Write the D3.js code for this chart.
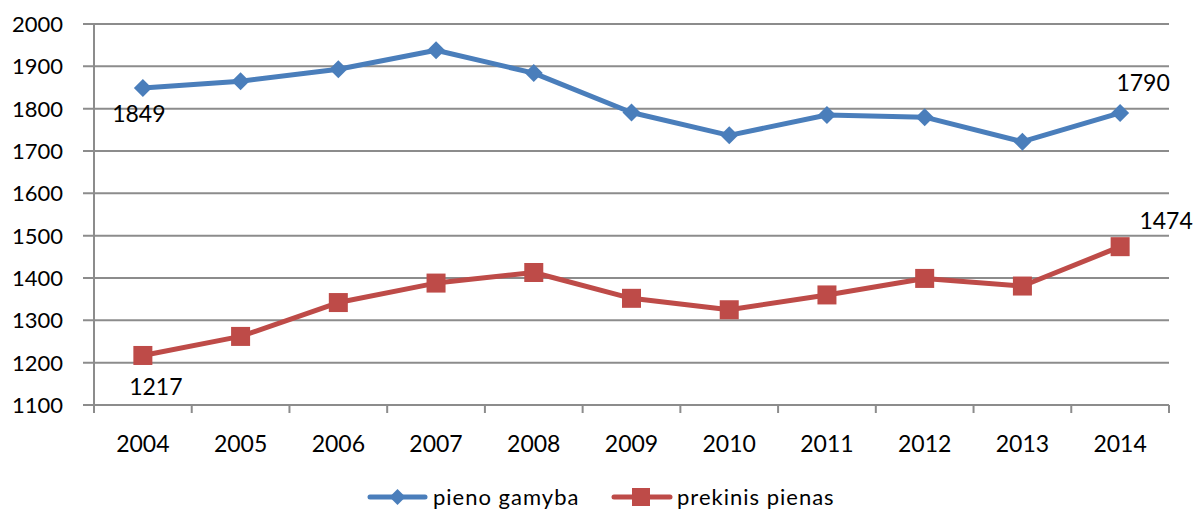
<!DOCTYPE html>
<html><head><meta charset="utf-8">
<script src="https://cdn.jsdelivr.net/npm/d3@7"></script>
<style>body{margin:0;background:#fff;}svg{display:block;font-family:Lato,"Open Sans",sans-serif;}</style>
</head><body><svg id="c" width="1196" height="511"></svg>
<script>
const years = ["2004","2005","2006","2007","2008","2009","2010","2011","2012","2013","2014"];
const pienoGamyba = [1849,1865,1893,1938,1884,1791,1737,1785,1780,1722,1790];
const prekinisPienas = [1217,1262,1342,1388,1413,1352,1325,1360,1399,1381,1474];
const yTicks = [1100,1200,1300,1400,1500,1600,1700,1800,1900,2000];
const seriesNames = ["pieno gamyba","prekinis pienas"];

const svg = d3.select("#c");
const L = 94, R = 1169, T = 24, B = 405;
const x = d3.scaleBand().domain(years).range([L, R]);
const y = d3.scaleLinear().domain([1100, 2000]).range([B, T]);
const grey = "#8c8c8c";

svg.append("g").selectAll("line").data(yTicks).join("line")
  .attr("x1", L - 11).attr("x2", R).attr("y1", d => y(d)).attr("y2", d => y(d))
  .attr("stroke", grey).attr("stroke-width", 2);
svg.append("line").attr("x1", L).attr("x2", L).attr("y1", T).attr("y2", B + 8)
  .attr("stroke", grey).attr("stroke-width", 2);
const bounds = years.map(d => x(d)).concat([R]);
svg.append("g").selectAll("line").data(bounds.slice(1)).join("line")
  .attr("x1", d => d).attr("x2", d => d).attr("y1", B).attr("y2", B + 8)
  .attr("stroke", grey).attr("stroke-width", 2);
svg.append("g").selectAll("text").data(yTicks).join("text")
  .attr("x", 63).attr("y", d => y(d) + 8).attr("text-anchor", "end")
  .attr("font-size", 22).attr("fill", "#000").text(d => d);
svg.append("g").selectAll("text").data(years).join("text")
  .attr("x", d => x(d) + x.bandwidth() / 2).attr("y", 452).attr("text-anchor", "middle")
  .attr("font-size", 23).attr("fill", "#000").text(d => d);

const cx = d => x(d) + x.bandwidth() / 2;
const blue = "#4a7ebb", red = "#be4b48";
const line = d3.line().x((d, i) => cx(years[i])).y(d => y(d));

svg.append("path").datum(pienoGamyba).attr("d", line).attr("fill", "none")
  .attr("stroke", blue).attr("stroke-width", 5).attr("stroke-linejoin", "round");
svg.append("path").datum(prekinisPienas).attr("d", line).attr("fill", "none")
  .attr("stroke", red).attr("stroke-width", 5).attr("stroke-linejoin", "round");

const diamond = (px, py, s) => `M${px},${py - s}L${px + s},${py}L${px},${py + s}L${px - s},${py}Z`;
svg.append("g").selectAll("path").data(pienoGamyba).join("path")
  .attr("d", (d, i) => diamond(cx(years[i]), y(d), 9)).attr("fill", blue);
svg.append("g").selectAll("rect").data(prekinisPienas).join("rect")
  .attr("x", (d, i) => cx(years[i]) - 9.5).attr("y", d => y(d) - 9.5)
  .attr("width", 19).attr("height", 19).attr("fill", red);

const lab = (t, px, py) => svg.append("text").attr("x", px).attr("y", py)
  .attr("text-anchor", "middle").attr("font-size", 23).attr("fill", "#000").text(t);
const n = years.length - 1;
lab(pienoGamyba[0], cx(years[0]) - 4, y(pienoGamyba[0]) + 34);
lab(pienoGamyba[n], cx(years[n]) + 23, y(pienoGamyba[n]) - 22);
lab(prekinisPienas[0], cx(years[0]) + 13, y(prekinisPienas[0]) + 40);
lab(prekinisPienas[n], cx(years[n]) + 46, y(prekinisPienas[n]) - 18);

const lg = svg.append("g");
lg.append("line").attr("x1", 370).attr("x2", 425).attr("y1", 497).attr("y2", 497)
  .attr("stroke", blue).attr("stroke-width", 5).attr("stroke-linecap", "round");
lg.append("path").attr("d", diamond(397.5, 497, 8)).attr("fill", blue);
lg.append("text").attr("x", 433).attr("y", 505).attr("font-size", 22).attr("letter-spacing", 1).text(seriesNames[0]);
lg.append("line").attr("x1", 614).attr("x2", 670).attr("y1", 497).attr("y2", 497)
  .attr("stroke", red).attr("stroke-width", 5).attr("stroke-linecap", "round");
lg.append("rect").attr("x", 632).attr("y", 488).attr("width", 18).attr("height", 18).attr("fill", red);
lg.append("text").attr("x", 677).attr("y", 505).attr("font-size", 22).attr("letter-spacing", 1).text(seriesNames[1]);
</script></body></html>
